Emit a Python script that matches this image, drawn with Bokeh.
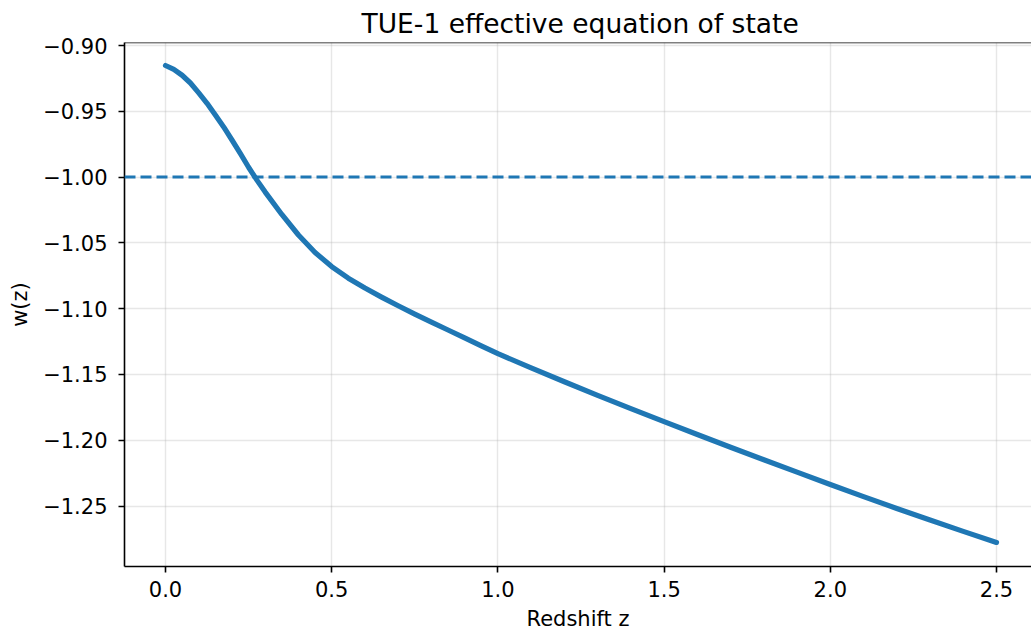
from bokeh.plotting import figure
from bokeh.models import Range1d, FixedTicker, CustomJSTickFormatter, Span, Title
from bokeh.embed import file_html
from bokeh.resources import INLINE

# ---- data ----
z = [0.000, 0.025, 0.050, 0.075, 0.100, 0.125, 0.150, 0.175, 0.200, 0.225,
     0.250, 0.275, 0.300, 0.350, 0.400, 0.450, 0.500, 0.550, 0.600, 0.650,
     0.700, 0.750, 0.800, 0.850, 0.900, 0.950, 1.000,
     1.10, 1.20, 1.30, 1.40, 1.50, 1.60, 1.70, 1.80, 1.90, 2.00,
     2.10, 2.20, 2.30, 2.40, 2.50]
w = [-0.9152, -0.9182, -0.9226, -0.9285, -0.9360, -0.9439, -0.9528, -0.9619,
     -0.9718, -0.9820, -0.9925, -1.0023, -1.0114, -1.0284, -1.0440, -1.0573,
     -1.0680, -1.0768, -1.0843, -1.0912, -1.0978, -1.1041, -1.1102, -1.1162,
     -1.1222, -1.1282, -1.1342,
     -1.1450, -1.1555, -1.1658, -1.1759, -1.1858, -1.1956, -1.2053, -1.2148,
     -1.2242, -1.2336, -1.2428, -1.2518, -1.2606, -1.2692, -1.2776]
w_lambda = -1.0
x_ticks = [0.0, 0.5, 1.0, 1.5, 2.0, 2.5]
y_ticks = [-1.25, -1.20, -1.15, -1.10, -1.05, -1.00, -0.95, -0.90]
title_text = "TUE-1 effective equation of state"
x_label = "Redshift z"
y_label = "w(z)"

FONT = "DejaVu Sans"
BLUE = "#1f77b4"
Y_TOP = -0.89772

p = figure(width=1031, height=634, output_backend="svg", toolbar_location=None,
           x_range=Range1d(-0.1233, 2.6053), y_range=Range1d(-1.2959, Y_TOP),
           min_border_left=124, min_border_right=0, min_border_top=42,
           min_border_bottom=68, background_fill_color="white",
           border_fill_color="white")
p.outline_line_color = None

t = Title(text=title_text, align="left", offset=237, text_font=FONT,
          text_font_size="26.5px", text_font_style="normal", text_color="black",
          standoff=8)
p.add_layout(t, "above")

# grid
for g, tk in ((p.xgrid, x_ticks), (p.ygrid, y_ticks)):
    g.ticker = FixedTicker(ticks=tk)
    g.grid_line_color = "#b0b0b0"
    g.grid_line_alpha = 0.3
    g.grid_line_width = 1.4

# axes
p.xaxis.ticker = FixedTicker(ticks=x_ticks)
p.yaxis.ticker = FixedTicker(ticks=y_ticks)
p.xaxis.formatter = CustomJSTickFormatter(code="return (tick < -1e-9 ? '\\u2212' : '') + Math.abs(tick).toFixed(1);")
p.yaxis.formatter = CustomJSTickFormatter(code="return (tick < -1e-9 ? '\\u2212' : '') + Math.abs(tick).toFixed(2);")
for ax in (p.xaxis[0], p.yaxis[0]):
    ax.axis_line_color = "black"
    ax.axis_line_width = 1.6
    ax.major_tick_line_color = "black"
    ax.major_tick_line_width = 1.6
    ax.major_tick_out = 6
    ax.major_tick_in = 0
    ax.minor_tick_out = 0
    ax.minor_tick_in = 0
    ax.major_label_text_font = FONT
    ax.major_label_text_font_size = "21px"
    ax.major_label_text_color = "black"
    ax.axis_label_text_font = FONT
    ax.axis_label_text_font_size = "21px"
    ax.axis_label_text_font_style = "normal"
    ax.axis_label_text_color = "black"
p.xaxis.axis_label = x_label
p.yaxis.axis_label = y_label
p.xaxis.major_label_standoff = 8
p.xaxis.axis_label_standoff = 7
p.yaxis.major_label_standoff = 11
p.yaxis.axis_label_standoff = 8

# top spine
p.add_layout(Span(location=Y_TOP, dimension="width", line_color="black",
                  line_width=1.6))

# reference line and curve
p.add_layout(Span(location=w_lambda, dimension="width", line_color=BLUE,
                  line_width=3, line_dash="11 5"))
p.line(z, w, line_color=BLUE, line_width=5.2, line_cap="round", line_join="round")

open("out.html", "w").write(file_html(p, INLINE))
